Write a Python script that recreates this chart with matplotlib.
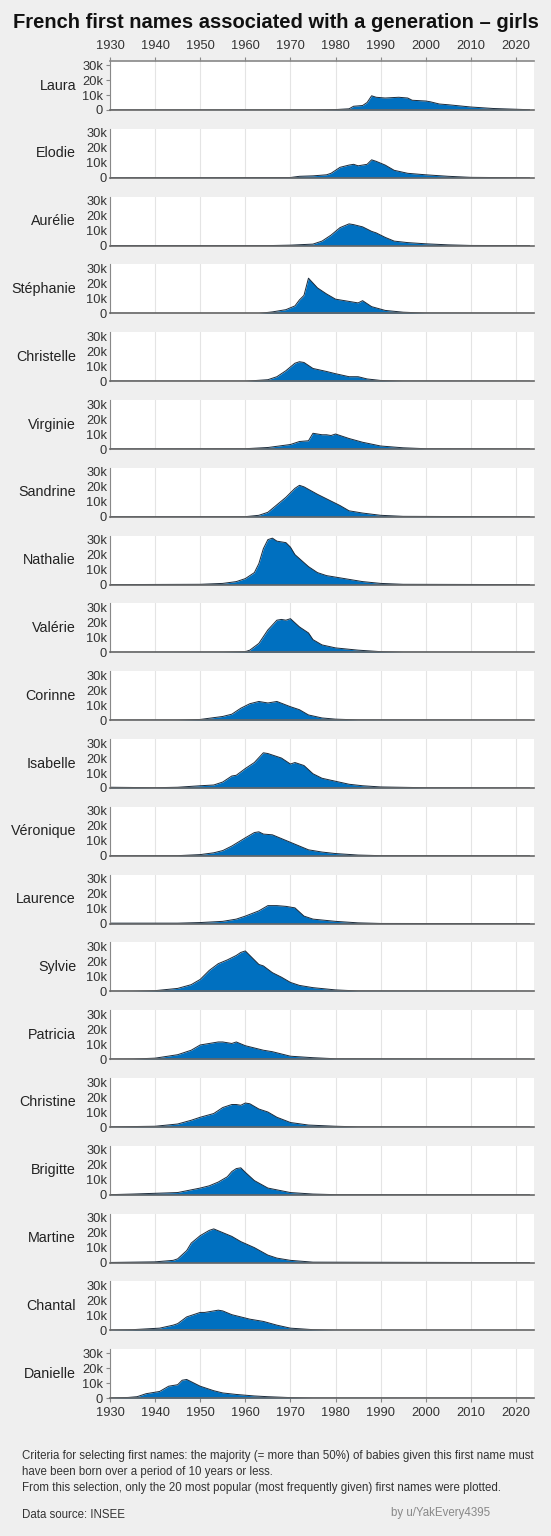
import matplotlib
matplotlib.use("Agg")
import matplotlib.pyplot as plt

names = ["Laura","Elodie","Aurélie","Stéphanie","Christelle","Virginie","Sandrine","Nathalie",
         "Valérie","Corinne","Isabelle","Véronique","Laurence","Sylvie","Patricia","Christine",
         "Brigitte","Martine","Chantal","Danielle"]

# (years, births in thousands)
laura_y = [1930,1975,1980,1983,1984,1986,1987,1988,1989,1991,1994,1996,1997,2000,2001,2003,2005,2010,2015,2020,2023]
laura_v = [0,0.1,0.3,0.8,2.5,3,5,9.5,8.5,8,8.5,8,6.5,6,5.5,4,3.5,2,1,0.5,0.2]
elodie_y = [1930,1970,1972,1975,1978,1979,1981,1983,1984,1985,1987,1988,1989,1991,1993,1996,2000,2005,2010,2023]
elodie_v = [0,0.2,1,1.3,2,3,7,8.5,9,8,9,12,11,8.5,5,3,2,1,0.3,0]
aurelie_y = [1930,1965,1970,1975,1977,1979,1981,1983,1984,1986,1988,1989,1991,1993,1996,2000,2005,2010,2023]
aurelie_v = [0,0,0.3,1,3,7,12,14.5,14,12.5,9.5,8.5,5.5,3,2,1.2,0.5,0.1,0]
stephanie_y = [1930,1963,1966,1969,1971,1972,1973,1974,1976,1978,1980,1983,1985,1986,1988,1991,1995,2000,2023]
stephanie_v = [0,0,1,2.5,5,9,12,23.5,17,13,9.5,8,7,8.5,4.5,2,0.8,0.2,0]
christelle_y = [1930,1960,1965,1967,1969,1971,1972,1973,1975,1978,1980,1983,1985,1987,1990,1995,2023]
christelle_v = [0,0,1,3,7,12,13,12.5,8.5,6.5,5,3,3,1.5,0.5,0.1,0]
virginie_y = [1930,1960,1965,1970,1972,1974,1975,1977,1978,1979,1980,1983,1986,1990,1995,2000,2023]
virginie_v = [0,0.2,1,3,5,5.5,10.5,9.5,9.5,9,10,7,4.5,2,0.8,0.2,0]
sandrine_y = [1930,1960,1963,1965,1967,1969,1971,1972,1973,1976,1979,1981,1983,1986,1990,1995,2023]
sandrine_v = [0,0.1,1,3,8,13,19,21,20,15,10.5,7.5,4,2.5,1,0.3,0]
nathalie_y = [1930,1950,1955,1958,1960,1962,1963,1964,1965,1966,1967,1969,1970,1971,1974,1976,1978,1981,1984,1986,1990,1995,2023]
nathalie_v = [0,0.2,0.8,2,4,8,14,24,30,31,29,28,25,20,12,8,6,4.5,3,2,0.8,0.2,0]
valerie_y = [1930,1955,1960,1961,1963,1965,1967,1968,1969,1970,1972,1974,1975,1977,1980,1985,1990,1995,2023]
valerie_v = [0,0.2,0.5,1.5,6,15,21.5,22,21.5,22.5,17,13,8.5,5,3,1.5,0.5,0.1,0]
corinne_y = [1930,1945,1950,1955,1957,1959,1961,1963,1965,1967,1970,1972,1974,1977,1980,1985,2023]
corinne_v = [0,0.1,0.5,2.5,4,8,11,12.5,11.5,12.5,9,7,3.5,1.5,0.7,0.2,0]
isabelle_y = [1930,1940,1945,1950,1953,1955,1957,1958,1960,1962,1964,1965,1968,1970,1971,1973,1975,1977,1980,1983,1986,1990,2000,2023]
isabelle_v = [0.5,0.2,0.5,1.5,2,4,8,8.5,13,17,23.5,23,20,16,17,15,9.5,6.5,4.5,2.5,1.5,0.7,0.2,0]
veronique_y = [1930,1945,1950,1953,1955,1957,1960,1962,1963,1964,1966,1968,1970,1972,1974,1977,1980,1985,1990,2023]
veronique_v = [0,0.1,0.8,2,3.5,6.5,12,15.5,16,14.5,14,11.5,9,6.5,4,2.5,1.5,0.5,0.1,0]
laurence_y = [1930,1945,1950,1955,1958,1960,1963,1965,1967,1969,1971,1973,1975,1980,1985,1990,2023]
laurence_v = [0.3,0.3,0.7,1.5,3,5,8.5,12,12,11.5,10.5,5,3,1.5,0.5,0.1,0]
sylvie_y = [1930,1935,1940,1945,1948,1950,1952,1954,1956,1958,1959,1960,1961,1963,1964,1966,1968,1970,1972,1975,1980,1985,2023]
sylvie_v = [0,0.1,0.5,2,4.5,8,14,18.5,21,24,26,27,24,18,17,12.5,9.5,6,4,2.5,1,0.3,0]
patricia_y = [1930,1935,1940,1945,1948,1950,1952,1954,1955,1957,1958,1960,1962,1964,1966,1970,1975,1980,2023]
patricia_v = [0,0.1,0.7,3,6,9.5,10.5,11.5,11.5,10.5,11.5,9,7.5,6,5,2,1,0.3,0]
christine_y = [1930,1940,1945,1948,1950,1953,1955,1957,1958,1959,1960,1961,1963,1965,1967,1970,1974,1980,1985,2023]
christine_v = [0.1,0.5,2,4.5,6.5,9,13,15,15,14.5,16,15.5,12,10,6.5,3,1.3,0.5,0.1,0]
brigitte_y = [1930,1935,1940,1945,1950,1952,1954,1956,1957,1958,1959,1960,1962,1965,1970,1975,1980,2023]
brigitte_v = [0.1,0.5,1,1.5,4.5,6,8.5,12,15.5,17.5,18,15,9.5,4.5,1.5,0.5,0.1,0]
martine_y = [1930,1940,1944,1945,1947,1948,1950,1952,1953,1955,1957,1959,1962,1965,1967,1970,1975,2023]
martine_v = [0.1,0.5,1.5,2.5,8,13,18,21.5,22.5,20,17.5,14,10,5,3,1.5,0.3,0]
chantal_y = [1930,1935,1938,1941,1944,1945,1947,1950,1951,1952,1954,1955,1957,1959,1961,1964,1967,1970,1975,1980,2023]
chantal_v = [0.2,0.5,1,1.5,3.5,4.5,9,12,12,12.5,13.5,13,10.5,9,7.5,6,3.5,1.5,0.5,0.1,0]
danielle_y = [1930,1934,1936,1938,1941,1943,1945,1946,1947,1948,1950,1953,1955,1958,1962,1965,1970,1975,2023]
danielle_v = [0.2,0.5,1,3,4.5,8,9,12,12.5,11,8,5,3.5,2.5,1.5,1,0.4,0.1,0]

series = [(laura_y,laura_v),(elodie_y,elodie_v),(aurelie_y,aurelie_v),(stephanie_y,stephanie_v),
          (christelle_y,christelle_v),(virginie_y,virginie_v),(sandrine_y,sandrine_v),(nathalie_y,nathalie_v),
          (valerie_y,valerie_v),(corinne_y,corinne_v),(isabelle_y,isabelle_v),(veronique_y,veronique_v),
          (laurence_y,laurence_v),(sylvie_y,sylvie_v),(patricia_y,patricia_v),(christine_y,christine_v),
          (brigitte_y,brigitte_v),(martine_y,martine_v),(chantal_y,chantal_v),(danielle_y,danielle_v)]

xticks = [1930,1940,1950,1960,1970,1980,1990,2000,2010,2020]
yticks = [0,10000,20000,30000]
ylabels = ["0","10k","20k","30k"]

W, H = 551, 1536
bg = "#efefef"
fig = plt.figure(figsize=(W/100, H/100), dpi=100, facecolor=bg)
plt.rcParams['font.family'] = ['Liberation Sans', 'DejaVu Sans']

left, right = 110, 534
for i, (name, (yrs, vals)) in enumerate(zip(names, series)):
    top = 61 + i*67.8
    ax = fig.add_axes([left/W, 1-(top+49)/H, (right-left)/W, 49/H])
    v = [x*1000 for x in vals]
    ax.fill_between(yrs, v, 0, color="#0070c0", linewidth=0)
    ax.plot(yrs, v, color="#1a2a3a", lw=0.7)
    ax.set_xlim(1930, 2024)
    ax.set_ylim(0, 32700)
    ax.set_xticks(xticks)
    ax.set_yticks(yticks)
    ax.set_yticklabels(ylabels)
    ax.grid(axis='x', color="#e4e4e4", lw=0.8)
    ax.set_axisbelow(True)
    for s in ['top','right']:
        ax.spines[s].set_visible(False)
    ax.spines['left'].set_color("#888888")
    ax.spines['bottom'].set_color("#666666")
    ax.spines['bottom'].set_linewidth(1.2)
    tl = 3 if i in (0, len(names)-1) else 0
    ax.tick_params(axis='y', labelsize=9.3, colors="#333333", length=tl, pad=2, color="#888888")
    ax.tick_params(axis='x', labelsize=9.3, colors="#333333", length=3, color="#888888")
    if i == 0:
        ax.spines['top'].set_visible(True)
        ax.spines['top'].set_color("#888888")
        ax.spines['top'].set_linewidth(1.2)
        ax.xaxis.tick_top()
        ax.tick_params(axis='x', labelsize=9.3, colors="#333333", length=3, color="#888888")
    elif i != len(names)-1:
        ax.tick_params(axis='x', labelbottom=False, length=0)
    ax.text(-0.08, 0.5, name, transform=ax.transAxes, ha='right', va='center',
            fontsize=10.3, color="#222222")

fig.text(0.5, 1-22/H, "French first names associated with a generation – girls",
         ha='center', va='center', fontsize=14.5, fontweight='bold', color="#111111")
fig.text(22/W, 1-1472/H,
         "Criteria for selecting first names: the majority (= more than 50%) of babies given this first name must\n"
         "have been born over a period of 10 years or less.\n"
         "From this selection, only the 20 most popular (most frequently given) first names were plotted.",
         ha='left', va='center', fontsize=8.3, color="#333333", linespacing=1.5)
fig.text(22/W, 1-1515/H, "Data source: INSEE", ha='left', va='center', fontsize=8.3, color="#333333")
fig.text(490/W, 1-1513/H, "by u/YakEvery4395", ha='right', va='center', fontsize=8.3, color="#888888")

fig.savefig("out.png", dpi=100, facecolor=bg)
